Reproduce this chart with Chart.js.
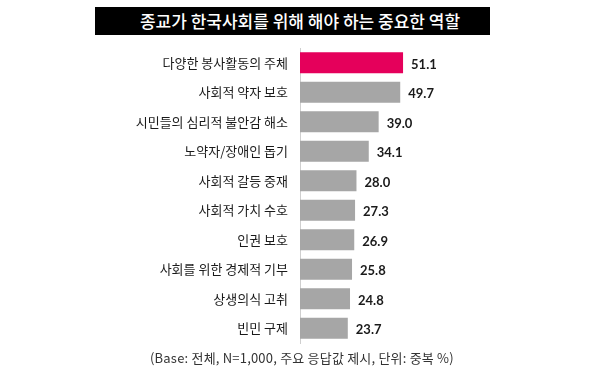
<!DOCTYPE html>
<html>
<head>
<meta charset="utf-8">
<script src="https://cdn.jsdelivr.net/npm/chart.js@4"></script>
<style>
  html, body { margin:0; padding:0; background:#fff; }
  #wrap { position:relative; width:600px; height:378px; overflow:hidden; }
  #titlebox { position:absolute; left:95px; top:7px; width:395px; height:28px; background:#000; }
  #title { position:absolute; left:0; top:7px; width:600px; height:28px; line-height:28px; text-align:center;
    color:#fff; font-family:"Noto Sans CJK KR"; font-size:17px; font-weight:500; }
  #foot { position:absolute; left:150px; top:348px; font-family:"Noto Sans CJK KR"; font-size:13px; color:#333; white-space:nowrap; letter-spacing:0.2px; }
  canvas { position:absolute; left:0; top:0; }
</style>
</head>
<body>
<div id="wrap">
  <div id="titlebox"></div>
  <div id="title">종교가 한국사회를 위해 해야 하는 중요한 역할</div>
  <canvas id="c" width="600" height="378"></canvas>
  <div id="foot">(Base: 전체, N=1,000, 주요 응답값 제시, 단위: 중복 %)</div>
</div>
<script>
const categories = ["다양한 봉사활동의 주체","사회적 약자 보호","시민들의 심리적 불안감 해소","노약자/장애인 돕기","사회적 갈등 중재","사회적 가치 수호","인권 보호","사회를 위한 경제적 기부","상생의식 고취","빈민 구제"];
const values = [51.1, 49.7, 39.0, 34.1, 28.0, 27.3, 26.9, 25.8, 24.8, 23.7];
const valueLabels = ["51.1","49.7","39.0","34.1","28.0","27.3","26.9","25.8","24.8","23.7"];

const colors = values.map((v,i)=> i===0 ? "#E5005B" : "#A6A6A6");

const valuePlugin = {
  id:'valuePlugin',
  afterDatasetsDraw(chart){
    const ctx = chart.ctx;
    const meta = chart.getDatasetMeta(0);
    ctx.save();
    ctx.font = "bold 13px Lato";
    ctx.fillStyle = "#1a1a1a";
    ctx.textAlign = "left";
    ctx.textBaseline = "middle";
    meta.data.forEach((bar,i)=>{
      ctx.fillText(valueLabels[i], bar.x + 8, bar.y + 2);
    });
    ctx.restore();
  }
};

new Chart(document.getElementById('c'), {
  type:'bar',
  data:{ labels:categories, datasets:[{ data:values, backgroundColor:colors, borderWidth:0,
    categoryPercentage:1.0, barPercentage:0.71 }]},
  options:{
    responsive:false, animation:false, indexAxis:'y',
    layout:{ padding:{ left:0, right:179, top:48, bottom:35 } },
    plugins:{ legend:{display:false}, tooltip:{enabled:false} },
    scales:{
      x:{ display:false, min:0, max:60 },
      y:{
        afterFit(scale){ scale.width = 300; },
        grid:{ display:false, drawTicks:false },
        border:{ display:true, color:"#CFCFCF", width:1 },
        ticks:{ color:"#1a1a1a", padding:12, font:{ family:"Noto Sans CJK KR", size:13 } }
      }
    }
  },
  plugins:[valuePlugin]
});
</script>
</body>
</html>
